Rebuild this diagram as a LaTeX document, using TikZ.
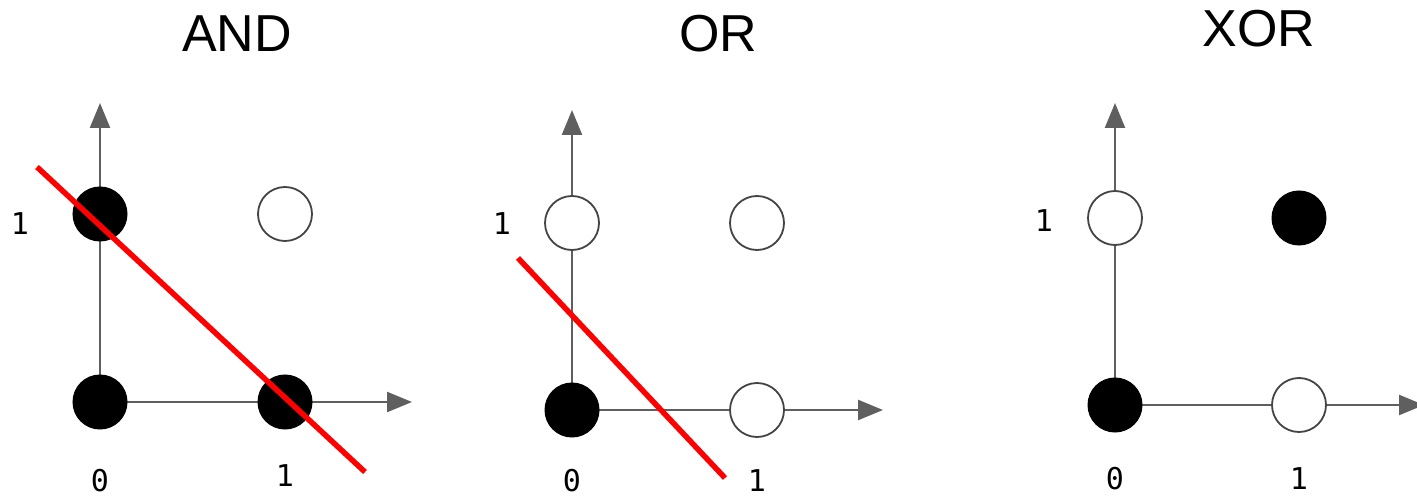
\documentclass[tikz,border=0pt]{standalone}
\usepackage{fontspec}
\setmainfont{Liberation Sans}
\newfontfamily\labfont{DejaVu Sans Mono}
\usetikzlibrary{arrows.meta}
\definecolor{axisgray}{HTML}{5F5F5F}
\definecolor{ringgray}{HTML}{444444}
\tikzset{
  axis/.style={draw=axisgray, line width=2.4pt, -{Triangle[length=25pt,width=20pt]}},
  filleddot/.style={circle, fill=black, draw=black, line width=1pt, minimum size=54pt, inner sep=0pt},
  hollowdot/.style={circle, fill=white, draw=ringgray, line width=1.8pt, minimum size=54pt, inner sep=0pt},
  title/.style={font=\fontsize{52}{60}\selectfont, anchor=base, inner sep=0pt},
  lab/.style={font=\labfont\fontsize{30}{34}\selectfont, anchor=base, inner sep=0pt},
  sep/.style={draw=red, line width=5.5pt}
}
\begin{document}
\begin{tikzpicture}[x=1pt, y=-1pt]
\useasboundingbox (0,0) rectangle (1417,497);
% ---------- AND ----------
\node[title] (tand) at (237,52) {AND};
\coordinate (andy) at (100,103);
\coordinate (andx) at (412,402);
\coordinate (ando0) at (100,402);
\draw[axis] (ando0) -- (andy);
\draw[axis] (ando0) -- (andx);
\node[filleddot] (and00) at (100,402) {};
\node[filleddot] (and01) at (100,214) {};
\node[filleddot] (and10) at (285,402) {};
\node[hollowdot] (and11) at (285,214) {};
\coordinate (andlA) at (37,167);
\coordinate (andlB) at (365,472);
\draw[sep] (andlA) -- (andlB);
\node[lab] (andly) at (20,235) {1};
\node[lab] (andl0) at (100,491) {0};
\node[lab] (andl1) at (285,486) {1};
% ---------- OR ----------
\node[title] (tor) at (718,52) {OR};
\coordinate (ory) at (572,110);
\coordinate (orx) at (883,410);
\coordinate (oro0) at (572,410);
\draw[axis] (oro0) -- (ory);
\draw[axis] (oro0) -- (orx);
\node[filleddot] (or00) at (572,410) {};
\node[hollowdot] (or01) at (572,223) {};
\node[hollowdot] (or10) at (757,410) {};
\node[hollowdot] (or11) at (757,223) {};
\coordinate (orlA) at (518,258);
\coordinate (orlB) at (725,478);
\draw[sep] (orlA) -- (orlB);
\node[lab] (orly) at (502,235) {1};
\node[lab] (orl0) at (572,491) {0};
\node[lab] (orl1) at (757,491) {1};
% ---------- XOR ----------
\node[title] (txor) at (1259,47) {XOR};
\coordinate (xory) at (1115,103);
\coordinate (xorx) at (1424,405);
\coordinate (xoro0) at (1115,405);
\draw[axis] (xoro0) -- (xory);
\draw[axis] (xoro0) -- (xorx);
\node[filleddot] (xor00) at (1115,405) {};
\node[hollowdot] (xor01) at (1115,218) {};
\node[hollowdot] (xor10) at (1299,405) {};
\node[filleddot] (xor11) at (1299,218) {};
\node[lab] (xorly) at (1044,232) {1};
\node[lab] (xorl0) at (1115,489) {0};
\node[lab] (xorl1) at (1299,489) {1};
\end{tikzpicture}
\end{document}
